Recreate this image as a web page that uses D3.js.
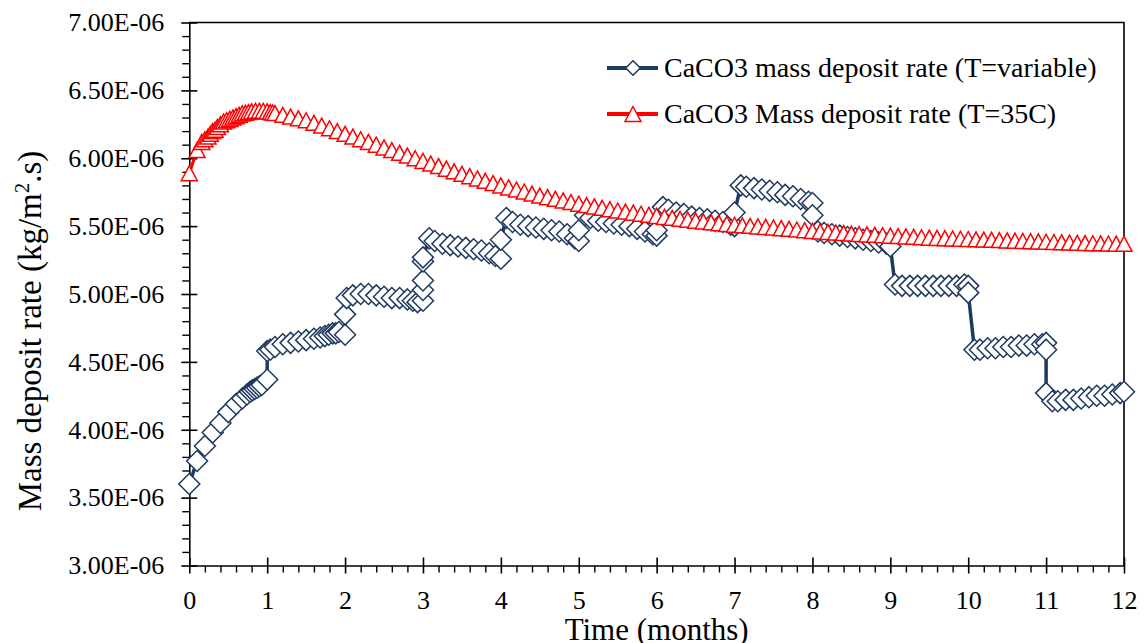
<!DOCTYPE html>
<html>
<head>
<meta charset="utf-8">
<title>CaCO3 mass deposit rate</title>
<script src="https://d3js.org/d3.v7.min.js"></script>
<style>
  body { margin: 0; background: #fff; }
  svg text { font-family: "Liberation Serif", "Times New Roman", serif; fill: #000; }
</style>
</head>
<body>
<svg id="chart" width="1144" height="643"></svg>
<script>
// rates are in units of 1E-06 kg/m2.s, time in months
var timeBlue = [0.00,0.10,0.20,0.30,0.40,0.50,0.60,0.68,0.74,0.78,0.81,0.84,0.87,0.90,0.93,1.00,
  1.00,1.04,1.10,1.20,1.30,1.40,1.50,1.60,1.68,1.74,1.79,1.84,1.88,1.92,2.00,
  2.00,2.02,2.10,2.20,2.30,2.40,2.50,2.60,2.70,2.80,2.87,2.93,3.00,
  3.00,3.00,3.00,3.00,3.08,3.15,3.25,3.35,3.45,3.55,3.65,3.75,3.85,3.93,4.00,
  4.00,4.07,4.15,4.25,4.35,4.45,4.55,4.65,4.75,4.85,4.95,5.00,
  5.00,5.08,5.15,5.25,5.35,5.45,5.55,5.65,5.75,5.85,5.95,6.00,
  6.00,6.08,6.15,6.25,6.35,6.45,6.55,6.65,6.75,6.85,6.95,7.00,
  7.00,7.08,7.15,7.25,7.35,7.45,7.55,7.65,7.75,7.85,7.95,8.00,
  8.00,8.07,8.15,8.25,8.35,8.45,8.55,8.65,8.75,8.85,8.95,9.00,
  9.06,9.15,9.25,9.35,9.45,9.55,9.65,9.75,9.85,9.95,10.00,
  10.00,10.08,10.15,10.25,10.35,10.45,10.55,10.65,10.75,10.85,10.95,11.00,
  11.00,11.00,11.08,11.15,11.25,11.35,11.45,11.55,11.65,11.75,11.85,11.95,12.00];
var rateBlue = [3.60,3.77,3.88,3.98,4.05,4.13,4.19,4.23,4.26,4.28,4.29,4.30,4.31,4.32,4.33,4.37,
  4.58,4.59,4.61,4.63,4.64,4.65,4.66,4.67,4.68,4.69,4.70,4.71,4.71,4.72,4.70,
  4.85,4.97,4.99,5.00,5.00,4.99,4.98,4.97,4.97,4.96,4.95,4.94,4.95,
  5.03,5.10,5.24,5.27,5.41,5.39,5.37,5.36,5.35,5.34,5.33,5.32,5.30,5.28,5.26,
  5.40,5.56,5.53,5.51,5.50,5.49,5.48,5.47,5.46,5.44,5.41,5.39,
  5.47,5.58,5.56,5.54,5.53,5.52,5.51,5.50,5.48,5.46,5.44,5.43,
  5.47,5.64,5.62,5.60,5.59,5.57,5.56,5.55,5.54,5.53,5.51,5.50,
  5.60,5.80,5.79,5.78,5.77,5.76,5.75,5.73,5.72,5.70,5.68,5.67,
  5.58,5.46,5.45,5.44,5.43,5.42,5.41,5.40,5.39,5.38,5.37,5.35,
  5.07,5.06,5.06,5.06,5.06,5.06,5.06,5.06,5.06,5.07,5.06,
  5.01,4.59,4.59,4.60,4.60,4.61,4.61,4.62,4.62,4.63,4.63,4.64,
  4.59,4.27,4.21,4.21,4.22,4.22,4.23,4.24,4.25,4.25,4.26,4.27,4.28];

var timeRed = [0.00,0.10,0.16,0.20,0.24,0.27,0.30,0.33,0.36,0.40,0.44,0.48,0.52,0.56,0.60,0.64,0.68,0.72,0.76,0.80,0.85,0.90,0.95,1.00,1.04,1.07,
  1.1,1.2,1.3,1.4,1.5,1.6,1.7,1.8,1.9,2.0,2.1,2.2,2.3,2.4,2.5,2.6,2.7,2.8,2.9,3.0,
  3.1,3.2,3.3,3.4,3.5,3.6,3.7,3.8,3.9,4.0,4.1,4.2,4.3,4.4,4.5,4.6,4.7,4.8,4.9,5.0,
  5.1,5.2,5.3,5.4,5.5,5.6,5.7,5.8,5.9,6.0,6.1,6.2,6.3,6.4,6.5,6.6,6.7,6.8,6.9,7.0,
  7.1,7.2,7.3,7.4,7.5,7.6,7.7,7.8,7.9,8.0,8.1,8.2,8.3,8.4,8.5,8.6,8.7,8.8,8.9,9.0,
  9.1,9.2,9.3,9.4,9.5,9.6,9.7,9.8,9.9,10.0,10.1,10.2,10.3,10.4,10.5,10.6,10.7,10.8,10.9,11.0,
  11.1,11.2,11.3,11.4,11.5,11.6,11.7,11.8,11.9,12.0];
var rateRed = [5.89,6.06,6.12,6.14,6.16,6.18,6.20,6.21,6.23,6.25,6.27,6.28,6.29,6.30,6.31,6.32,6.33,6.335,6.34,6.345,6.35,6.35,6.35,6.345,6.34,6.337,
  6.333,6.320,6.307,6.294,6.280,6.261,6.241,6.221,6.200,6.180,6.160,6.140,6.120,6.100,6.080,6.060,6.040,6.020,6.000,5.980,
  5.961,5.942,5.923,5.904,5.885,5.868,5.851,5.834,5.817,5.800,5.785,5.770,5.755,5.740,5.725,5.713,5.701,5.689,5.677,5.665,
  5.655,5.645,5.635,5.625,5.615,5.607,5.599,5.591,5.583,5.575,5.568,5.561,5.554,5.547,5.540,5.534,5.528,5.522,5.516,5.510,
  5.506,5.502,5.498,5.494,5.490,5.485,5.480,5.475,5.470,5.465,5.461,5.457,5.453,5.449,5.445,5.442,5.439,5.436,5.433,5.430,
  5.427,5.424,5.421,5.418,5.415,5.413,5.411,5.409,5.407,5.405,5.403,5.401,5.399,5.397,5.395,5.393,5.391,5.389,5.387,5.385,
  5.383,5.381,5.379,5.377,5.375,5.374,5.373,5.372,5.371,5.370];

var yTicks = [3.0,3.5,4.0,4.5,5.0,5.5,6.0,6.5,7.0];
var yTickLabels = ["3.00E-06","3.50E-06","4.00E-06","4.50E-06","5.00E-06","5.50E-06","6.00E-06","6.50E-06","7.00E-06"];
var xTicks = [0,1,2,3,4,5,6,7,8,9,10,11,12];
var seriesNames = ["CaCO3 mass deposit rate (T=variable)", "CaCO3 Mass deposit rate (T=35C)"];

var plotLeft = 189.3, plotRight = 1124, plotTop = 22.5, plotBottom = 565.5;
var blue = "#1f3a60", red = "#ff0000";

var svg = d3.select("#chart");

var x = d3.scaleLinear().domain([0, 12]).range([plotLeft, plotRight]);
var y = d3.scaleLinear().domain([3, 7]).range([plotBottom, plotTop]);

// minor ticks
var yMinor = d3.range(30, 71).map(function(d){ return d / 10; }).filter(function(d){ return Math.round(d*10) % 5 != 0; });
var xMinor = d3.range(0, 61).map(function(d){ return d / 5; }).filter(function(d){ return Math.round(d*5) % 5 != 0; });

// frame (top + right)
svg.append("path")
  .attr("d", "M" + plotLeft + "," + plotTop + "H" + plotRight + "V" + plotBottom)
  .attr("fill", "none").attr("stroke", "#000").attr("stroke-width", 1.6);

svg.append("g").attr("transform", "translate(" + plotLeft + ",0)")
  .call(d3.axisLeft(y).tickValues(yMinor).tickSize(7).tickFormat(""))
  .call(function(g){ g.select(".domain").remove(); g.selectAll("line").attr("stroke-width", 1.4); });

svg.append("g").attr("transform", "translate(0," + plotBottom + ")")
  .call(d3.axisBottom(x).tickValues(xMinor).tickSize(7).tickFormat(""))
  .call(function(g){ g.select(".domain").remove(); g.selectAll("line").attr("stroke-width", 1.4); });

var yAxis = svg.append("g").attr("transform", "translate(" + plotLeft + ",0)")
  .call(d3.axisLeft(y).tickValues(yTicks).tickSizeInner(8).tickSizeOuter(0).tickPadding(17)
    .tickFormat(function(d, i){ return yTickLabels[i]; }));
yAxis.select(".domain").attr("stroke-width", 1.6);
yAxis.selectAll(".tick line").attr("x1", 8).attr("stroke-width", 1.6);
yAxis.selectAll("text").style("font-size", "26px").style("font-family", "'Liberation Serif', serif");

var xAxis = svg.append("g").attr("transform", "translate(0," + plotBottom + ")")
  .call(d3.axisBottom(x).tickValues(xTicks).tickSizeInner(8).tickSizeOuter(0).tickPadding(17)
    .tickFormat(d3.format("d")));
xAxis.select(".domain").attr("stroke-width", 1.6);
xAxis.selectAll(".tick line").attr("y1", -8).attr("stroke-width", 1.6);
xAxis.selectAll("text").style("font-size", "26px").style("font-family", "'Liberation Serif', serif");

// axis titles
svg.append("text")
  .attr("x", (plotLeft + plotRight) / 2).attr("y", 640)
  .attr("text-anchor", "middle").style("font-size", "31px")
  .text("Time (months)");

var yt = svg.append("text")
  .attr("transform", "translate(41,331) rotate(-90)")
  .attr("text-anchor", "middle").style("font-size", "33px");
yt.append("tspan").text("Mass deposit rate (kg/m");
yt.append("tspan").attr("baseline-shift", "super").style("font-size", "21px").text("2");
yt.append("tspan").text(".s)");

var diamond = function(r){ return "M0," + (-r) + "L" + r + ",0L0," + r + "L" + (-r) + ",0Z"; };
var triangle = function(w, h){ return "M0," + (-h/2) + "L" + (w/2) + "," + (h/2) + "L" + (-w/2) + "," + (h/2) + "Z"; };

var blueData = timeBlue.map(function(t, i){ return [t, rateBlue[i]]; });
var redData = timeRed.map(function(t, i){ return [t, rateRed[i]]; });

var line = d3.line().x(function(d){ return x(d[0]); }).y(function(d){ return y(d[1]); });

// series 1
svg.append("path").datum(blueData).attr("d", line)
  .attr("fill", "none").attr("stroke", blue).attr("stroke-width", 3.5).attr("stroke-linejoin", "round");
svg.append("g").selectAll("path").data(blueData).enter().append("path")
  .attr("d", diamond(10.5))
  .attr("transform", function(d){ return "translate(" + x(d[0]) + "," + y(d[1]) + ")"; })
  .attr("fill", "#fff").attr("stroke", blue).attr("stroke-width", 1.5);

// series 2
svg.append("path").datum(redData).attr("d", line)
  .attr("fill", "none").attr("stroke", red).attr("stroke-width", 3).attr("stroke-linejoin", "round");
svg.append("g").selectAll("path").data(redData).enter().append("path")
  .attr("d", triangle(16, 15))
  .attr("transform", function(d){ return "translate(" + x(d[0]) + "," + y(d[1]) + ")"; })
  .attr("fill", "#fff").attr("stroke", red).attr("stroke-width", 1.5);

// legend
var legend = svg.append("g");
var rows = [{c: blue, m: diamond(7.3), y: 68}, {c: red, m: triangle(16, 15), y: 114}];
rows.forEach(function(r, i){
  legend.append("line").attr("x1", 607).attr("x2", 658).attr("y1", r.y).attr("y2", r.y)
    .attr("stroke", r.c).attr("stroke-width", 4);
  legend.append("path").attr("d", r.m).attr("transform", "translate(633," + r.y + ")")
    .attr("fill", "#fff").attr("stroke", r.c).attr("stroke-width", 1.5);
  legend.append("text").attr("x", 664).attr("y", r.y).attr("dy", "0.33em")
    .style("font-size", "28px").text(seriesNames[i]);
});
</script>
</body>
</html>
